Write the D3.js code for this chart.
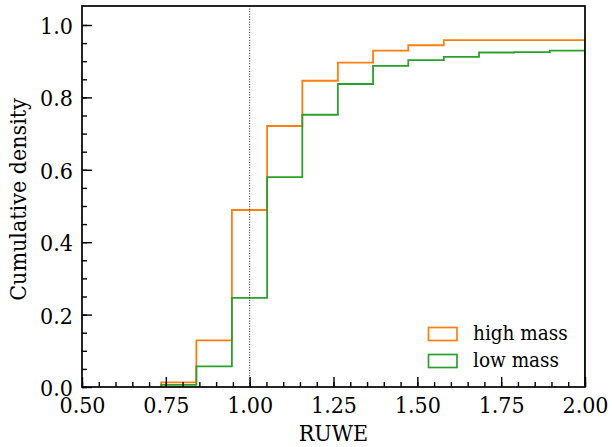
<!DOCTYPE html>
<html>
<head>
<meta charset="utf-8">
<script src="https://cdn.jsdelivr.net/npm/d3@7"></script>
<style>
  html, body { margin: 0; padding: 0; background: #fff; }
  svg { display: block; }
  text { font-family: "DejaVu Serif Condensed", "DejaVu Serif", serif; font-stretch: condensed; fill: #000; }
</style>
</head>
<body>
<script>
// ---- data ----
const binEdges = [0.736, 0.841, 0.947, 1.052, 1.157, 1.263, 1.368, 1.473, 1.579, 1.684, 1.789, 1.895, 2.0];
const highMass = [0.013, 0.129, 0.489, 0.721, 0.846, 0.896, 0.929, 0.944, 0.958, 0.958, 0.958, 0.958];
const lowMass  = [0.006, 0.057, 0.246, 0.580, 0.752, 0.837, 0.887, 0.903, 0.912, 0.924, 0.925, 0.929];
const seriesNames = ["high mass", "low mass"];
const seriesColors = ["#ff7f0e", "#2ca02c"];
const xTicks = [0.50, 0.75, 1.00, 1.25, 1.50, 1.75, 2.00];
const yTicks = [0.0, 0.2, 0.4, 0.6, 0.8, 1.0];
const refLine = 1.0;

const W = 612, H = 447;
const m = { left: 82, right: 27, top: 6, bottom: 60 };
const FS = 23;

const svg = d3.select("body").append("svg").attr("width", W).attr("height", H);

const x = d3.scaleLinear().domain([0.5, 2.0]).range([m.left, W - m.right]);
const y = d3.scaleLinear().domain([0, 1.0 + (1.0 / 362.3) * 19]).range([H - m.bottom, m.top]);

const plot = svg.append("g");
svg.append("defs").append("clipPath").attr("id", "clip")
  .append("rect").attr("x", m.left).attr("y", m.top)
  .attr("width", W - m.left - m.right).attr("height", H - m.top - m.bottom);

function stepPoints(vals) {
  const pts = [[binEdges[0], 0]];
  vals.forEach((v, i) => { pts.push([binEdges[i], v]); pts.push([binEdges[i + 1], v]); });
  pts.push([binEdges[binEdges.length - 1], 0]);
  return pts;
}
const line = d3.line().x(d => x(d[0])).y(d => y(d[1]));
[highMass, lowMass].forEach((vals, i) => {
  plot.append("path")
    .attr("d", line(stepPoints(vals)))
    .attr("fill", "none")
    .attr("stroke", seriesColors[i])
    .attr("stroke-width", 1.8)
    .attr("clip-path", "url(#clip)");
});

plot.append("line")
  .attr("x1", x(refLine)).attr("x2", x(refLine))
  .attr("y1", y.range()[1]).attr("y2", y.range()[0])
  .attr("stroke", "#000").attr("stroke-width", 0.9)
  .attr("stroke-dasharray", "1,1.6");

const xMinor = d3.range(0.5, 2.0001, 0.05);
const yMinor = d3.range(0, 1.0001, 0.05);

const xAxis = svg.append("g").attr("transform", `translate(0,${y(0)})`);
xAxis.call(d3.axisBottom(x).tickValues(xMinor).tickSize(-5).tickFormat(""));
xAxis.call(g => g.selectAll(".domain").remove());
const xMajor = svg.append("g").attr("transform", `translate(0,${y(0)})`)
  .call(d3.axisBottom(x).tickValues(xTicks).tickSize(-10).tickFormat(d3.format(".2f")));
xMajor.select(".domain").remove();
xMajor.selectAll("text").attr("font-size", FS).attr("dy", null).attr("y", 26);

const yAxis = svg.append("g").attr("transform", `translate(${x(0.5)},0)`);
yAxis.call(d3.axisLeft(y).tickValues(yMinor).tickSize(-5).tickFormat(""));
yAxis.call(g => g.selectAll(".domain").remove());
const yMajor = svg.append("g").attr("transform", `translate(${x(0.5)},0)`)
  .call(d3.axisLeft(y).tickValues(yTicks).tickSize(-10).tickFormat(d3.format(".1f")));
yMajor.select(".domain").remove();
yMajor.selectAll("text").attr("font-size", FS).attr("x", -9).attr("dy", null).attr("y", 8.5);

svg.selectAll(".tick line").attr("stroke", "#000").attr("stroke-width", 1.4);

svg.append("rect")
  .attr("x", m.left).attr("y", m.top)
  .attr("width", W - m.left - m.right).attr("height", y(0) - m.top)
  .attr("fill", "none").attr("stroke", "#000").attr("stroke-width", 1.7);

svg.append("text").attr("x", (m.left + W - m.right) / 2).attr("y", 441)
  .attr("text-anchor", "middle").attr("font-size", FS).text("RUWE");
svg.append("text")
  .attr("transform", `translate(26,${(m.top + y(0)) / 2 + 3}) rotate(-90)`)
  .attr("text-anchor", "middle").attr("font-size", FS).text("Cumulative density");

const lg = svg.append("g");
seriesNames.forEach((name, i) => {
  const yy = 327.5 + i * 27;
  lg.append("rect").attr("x", 428.5).attr("y", yy).attr("width", 28.5).attr("height", 13)
    .attr("fill", "none").attr("stroke", seriesColors[i]).attr("stroke-width", 1.7);
  lg.append("text").attr("x", 473).attr("y", yy + 12).attr("font-size", 20.5).text(name);
});
</script>
</body>
</html>
